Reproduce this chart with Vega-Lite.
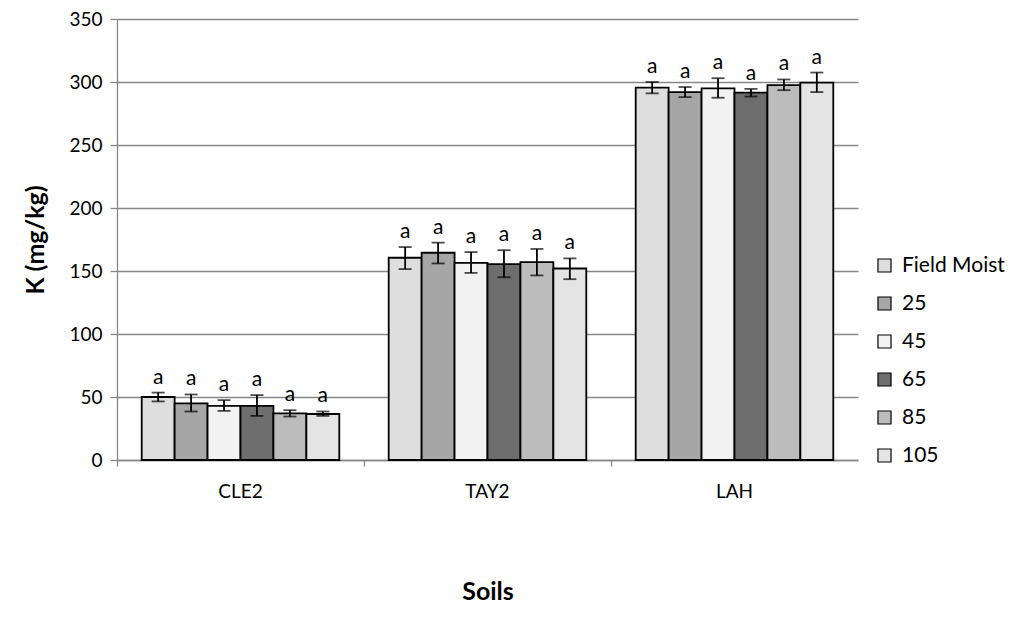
{
  "$schema": "https://vega.github.io/schema/vega-lite/v6.json",
  "width": 741,
  "height": 441,
  "autosize": {"type": "none"},
  "padding": {"left": 117, "top": 19, "right": 166, "bottom": 173},
  "background": "white",
  "config": {
    "font": "Lato",
    "view": {"stroke": null},
    "axis": {"labelFont": "Lato", "titleFont": "Lato", "labelColor": "#000", "titleColor": "#000"}
  },
  "data": {
    "values": [
      {"soil": "CLE2", "t": "Field Moist", "mean": 50, "lo": 46.5, "hi": 53.5, "lab": "a"},
      {"soil": "CLE2", "t": "25", "mean": 45, "lo": 38.5, "hi": 52, "lab": "a"},
      {"soil": "CLE2", "t": "45", "mean": 43, "lo": 39, "hi": 47.5, "lab": "a"},
      {"soil": "CLE2", "t": "65", "mean": 43, "lo": 35, "hi": 51.5, "lab": "a"},
      {"soil": "CLE2", "t": "85", "mean": 37, "lo": 34.5, "hi": 39.5, "lab": "a"},
      {"soil": "CLE2", "t": "105", "mean": 36.5, "lo": 35, "hi": 38.5, "lab": "a"},
      {"soil": "TAY2", "t": "Field Moist", "mean": 160.5, "lo": 151.5, "hi": 169, "lab": "a"},
      {"soil": "TAY2", "t": "25", "mean": 164.5, "lo": 156, "hi": 172.5, "lab": "a"},
      {"soil": "TAY2", "t": "45", "mean": 156.5, "lo": 148.5, "hi": 165, "lab": "a"},
      {"soil": "TAY2", "t": "65", "mean": 155.5, "lo": 145, "hi": 166.5, "lab": "a"},
      {"soil": "TAY2", "t": "85", "mean": 157, "lo": 146.5, "hi": 167.5, "lab": "a"},
      {"soil": "TAY2", "t": "105", "mean": 152, "lo": 143.5, "hi": 160, "lab": "a"},
      {"soil": "LAH", "t": "Field Moist", "mean": 295.5, "lo": 291, "hi": 300, "lab": "a"},
      {"soil": "LAH", "t": "25", "mean": 292, "lo": 288, "hi": 296, "lab": "a"},
      {"soil": "LAH", "t": "45", "mean": 295, "lo": 287.5, "hi": 303, "lab": "a"},
      {"soil": "LAH", "t": "65", "mean": 291.5, "lo": 288.5, "hi": 294.5, "lab": "a"},
      {"soil": "LAH", "t": "85", "mean": 297.5, "lo": 293.5, "hi": 302, "lab": "a"},
      {"soil": "LAH", "t": "105", "mean": 299.5, "lo": 292, "hi": 307.5, "lab": "a"}
    ]
  },
  "encoding": {
    "x": {
      "field": "soil", "type": "nominal", "sort": ["CLE2", "TAY2", "LAH"],
      "scale": {"paddingInner": 0.2, "paddingOuter": 0.1},
      "axis": {
        "title": "Soils", "titleFontSize": 25, "titleFontWeight": "bold", "titlePadding": 78,
        "labelAngle": 0, "labelFontSize": 19, "labelPadding": 16,
        "bandPosition": -0.125, "domainColor": "#868686", "tickColor": "#868686", "tickSize": 6, "domainWidth": 1.3, "tickWidth": 1.3
      }
    },
    "xOffset": {"field": "t", "type": "nominal", "sort": ["Field Moist", "25", "45", "65", "85", "105"], "scale": {"paddingInner": 0, "paddingOuter": 0}}
  },
  "layer": [
    {
      "mark": {"type": "bar", "stroke": "#000", "strokeWidth": 1.8},
      "encoding": {
        "y": {
          "field": "mean", "type": "quantitative",
          "scale": {"domain": [0, 350], "nice": false},
          "axis": {
            "title": "K (mg/kg)", "titleFontSize": 25, "titleFontWeight": "bold", "titlePadding": 20,
            "values": [0, 50, 100, 150, 200, 250, 300, 350], "labelFontSize": 19, "labelPadding": 8,
            "grid": true, "gridColor": "#868686", "gridWidth": 1.3, "domainColor": "#868686", "domainWidth": 1.3,
            "tickColor": "#868686", "tickSize": 7, "tickWidth": 1.3
          }
        },
        "fill": {
          "field": "t", "type": "nominal", "sort": ["Field Moist", "25", "45", "65", "85", "105"],
          "scale": {"domain": ["Field Moist", "25", "45", "65", "85", "105"], "range": ["#dedede", "#a6a6a6", "#f2f2f2", "#6e6e6e", "#bcbcbc", "#e4e4e4"]},
          "legend": {
            "title": null, "orient": "none", "legendX": 757, "legendY": 236,
            "symbolType": "square", "symbolSize": 170, "symbolStrokeColor": "#000", "symbolStrokeWidth": 1.2,
            "labelFontSize": 21, "labelFont": "Lato", "labelColor": "#000", "rowPadding": 16, "labelOffset": 7
          }
        }
      }
    },
    {
      "mark": {"type": "rule", "color": "#000", "strokeWidth": 1.8},
      "encoding": {
        "y": {"field": "lo", "type": "quantitative"},
        "y2": {"field": "hi"}
      }
    },
    {
      "mark": {"type": "tick", "color": "#000", "thickness": 1.8, "size": 13},
      "encoding": {"y": {"field": "lo", "type": "quantitative"}}
    },
    {
      "mark": {"type": "tick", "color": "#000", "thickness": 1.8, "size": 13},
      "encoding": {"y": {"field": "hi", "type": "quantitative"}}
    },
    {
      "mark": {"type": "text", "font": "Lato", "fontSize": 21, "baseline": "alphabetic", "dy": -9, "color": "#000"},
      "encoding": {
        "y": {"field": "hi", "type": "quantitative"},
        "text": {"field": "lab"}
      }
    }
  ]
}
